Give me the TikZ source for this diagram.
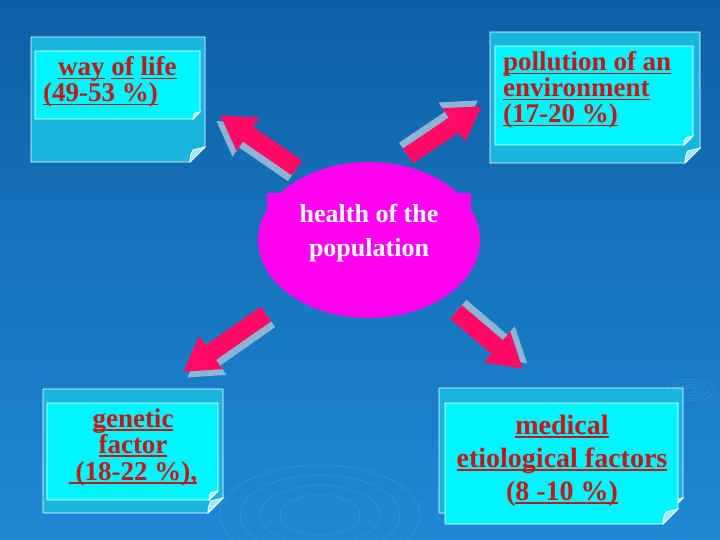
\documentclass[tikz,border=0pt]{standalone}
\usepackage{fontspec}
\setmainfont{Liberation Serif}
\usepackage{xcolor}
\usepackage{tikz}
\usetikzlibrary{arrows.meta}
\usetikzlibrary{shapes,calc,positioning}

\definecolor{slidetop}{RGB}{13,96,166}
\definecolor{slidebottom}{RGB}{30,136,212}
\definecolor{sheetout}{RGB}{24,182,222}
\definecolor{sheetin}{RGB}{0,245,255}
\definecolor{sheetcurl}{RGB}{150,235,250}
\definecolor{sheettext}{RGB}{196,24,24}
\definecolor{ovalfill}{RGB}{255,0,240}
\definecolor{arrowpink}{RGB}{255,10,100}
\definecolor{arrowshadow}{RGB}{140,180,215}

% thick underline
\newcommand\ulword[1]{\setbox0\hbox{#1}\rlap{\rule[-3.5pt]{\wd0}{1.8pt}}\box0}
% sheet: x1, y1, x2, y2, curl size, fill
\newcommand\sheet[6]{%
	\filldraw[fill=#6, draw=white, thick]
		(#1,#2) -- (#3,#2) -- (#3,#4-#5) -- (#3-#5,#4) -- (#1,#4) -- cycle;
	\filldraw[fill=sheetcurl, draw=white, thick]
		(#3-#5,#4) to[bend left=15] (#3-0.8*#5,#4-0.8*#5) -- (#3,#4-#5) -- cycle;
}
% block arrow with its shadow
\newcommand\blockarrow[2]{%
	\draw[arrowshade] ($(#1)!7pt!90:(#2)$) -- ($(#2)!7pt!-90:(#1)$);
	\draw[arrowbody] (#1) -- (#2);
}

\begin{document}
\begin{tikzpicture}[
	x=1pt, y=-1pt,
	boxtext/.style = {text=sheettext, inner sep=0pt, font=\bfseries\fontsize{27}{26}\selectfont},
	oval/.style = {ellipse, fill=ovalfill, minimum width=222pt, minimum height=156pt},
	arrowbody/.style = {draw=arrowpink, line width=18pt, -{Triangle[length=34pt,width=38pt]}},
	arrowshade/.style = {arrowbody, draw=arrowshadow},
	ripple/.style = {draw=white, opacity=0.07, line width=1.2pt}
]
\useasboundingbox (0,0) rectangle (720,540);
\shade[top color=slidetop, bottom color=slidebottom] (0,0) rectangle (720,540);

% ripples
\foreach \r in {6,12,18,24}
	\draw[ripple] (690,390) ellipse ({\r*1pt} and {\r*0.45pt});
\foreach \r in {40,60,80,100}
	\draw[ripple] (320,515) ellipse ({\r*1pt} and {\r*0.5pt});

% the four sheets
\sheet{31}{37}{205}{162}{15}{sheetout}
\sheet{35}{51}{200}{119}{7}{sheetin}
\sheet{490}{32}{700}{163}{15}{sheetout}
\sheet{495}{46}{693}{145}{9}{sheetin}
\sheet{43}{389}{223}{513}{15}{sheetout}
\sheet{47}{403}{218}{500}{9}{sheetin}
\sheet{439}{388}{683}{513}{15}{sheetout}
\sheet{445}{403}{678}{524}{15}{sheetin}

% texts, placed by the baseline of their last line
\node[boxtext, anchor=base west, align=left] (life) at (43,102)
	{\hspace*{15pt}\ulword{way}~\ulword{of}~\ulword{life}\\\ulword{(49-53 \%)}};
\node[boxtext, anchor=base west, align=left] (pollution) at (503,123)
	{\ulword{pollution of an}\\\ulword{environment}\\\ulword{(17-20 \%)}};
\node[boxtext, anchor=base, align=center, font=\bfseries\fontsize{27}{26.5}\selectfont] (genetic) at (133,480)
	{\ulword{genetic}\\\ulword{factor}\\\ulword{~(18-22 \%),}};
\node[boxtext, anchor=base, align=center, font=\bfseries\fontsize{28}{33}\selectfont] (medical) at (562,500)
	{\ulword{medical}\\\ulword{etiological factors}\\(\ulword{8 -10 \%)}};

% centre
\node[oval] (oval) at (369,240) {};
\node[fill=ovalfill, text=white, anchor=north, minimum width=204pt, inner sep=0pt,
	align=center, font=\bfseries\fontsize{26}{34}\selectfont] (health) at (369,193)
	{\rule{0pt}{29pt}health of the\\population\rule[-12pt]{0pt}{12pt}};

% arrows
\coordinate (lifetail) at (297,168);
\coordinate (lifetip) at (220,115);
\coordinate (pollutiontail) at (408,156);
\coordinate (pollutiontip) at (482,106);
\coordinate (genetictail) at (266,314);
\coordinate (genetictip) at (183,372);
\coordinate (medicaltail) at (456,312);
\coordinate (medicaltip) at (523,369);
\blockarrow{lifetail}{lifetip}
\blockarrow{pollutiontail}{pollutiontip}
\blockarrow{genetictail}{genetictip}
\blockarrow{medicaltail}{medicaltip}
\end{tikzpicture}
\end{document}
